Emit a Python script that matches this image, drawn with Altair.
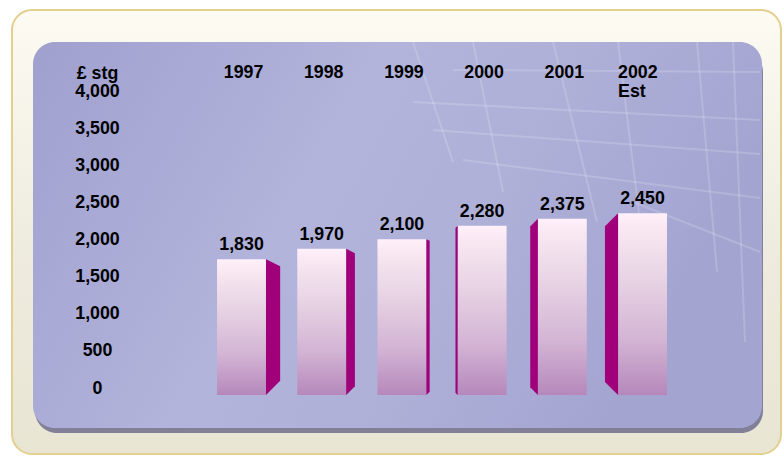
import altair as alt
import pandas as pd

# ---- data ----
years = ["1997", "1998", "1999", "2000", "2001", "2002"]
year_labels = ["1997", "1998", "1999", "2000", "2001", "2002\nEst"]
values = [1830, 1970, 2100, 2280, 2375, 2450]
y_ticks = [0, 500, 1000, 1500, 2000, 2500, 3000, 3500, 4000]
unit_label = "£ stg"

# ---- layout constants (styling) ----
W, H = 729, 386
PX_PER_SLOT = 80.2
PX_PER_UNIT = 0.0742
X_DOM = [-2.6, -2.6 + W / PX_PER_SLOT]
Y_DOM = [353 / PX_PER_UNIT - H / PX_PER_UNIT, 353 / PX_PER_UNIT]
HALF = 0.305
VP_SLOT = 2.6  # perspective centre
FONT = "Liberation Sans"
FS = 17.8

xs = alt.Scale(domain=X_DOM, nice=False, zero=False)
ys = alt.Scale(domain=Y_DOM, nice=False, zero=False)

y_axis = alt.Axis(
    values=y_ticks, orient="left", offset=-64, domain=False, ticks=False,
    tickSize=0, grid=False, labelPadding=0, labelAlign="center",
    labelBaseline="alphabetic", labelOffset=-2, labelFont=FONT,
    labelFontSize=FS, labelFontWeight="bold", labelColor="#000000",
    format=",.0f", title=unit_label, titleAngle=0, titleX=0, titleY=36,
    titleAlign="center", titleBaseline="alphabetic", titleFont=FONT,
    titleFontSize=FS, titleFontWeight="bold", titleColor="#000000",
    zindex=2,
)

bars = pd.DataFrame({
    "year": years,
    "label": year_labels,
    "slot": list(range(len(years))),
    "value": values,
})
bars["x0"] = bars["slot"] - HALF
bars["x1"] = bars["slot"] + HALF

# side faces (perspective)
rows = []
for i, (yr, v) in enumerate(zip(years, values)):
    d = (VP_SLOT - i) * PX_PER_SLOT * 0.068  # px, sign: + right face, - left face
    w = abs(d)
    if d >= 0:
        edge = i + HALF
        outer = edge + w / PX_PER_SLOT
        drop = 0.5 * w
    else:
        edge = i - HALF
        outer = edge - w / PX_PER_SLOT
        drop = 1.0 * w
    rows.append({"year": yr, "sx": edge, "top": v, "bot": 0})
    rows.append({"year": yr, "sx": outer, "top": v - drop / PX_PER_UNIT,
                 "bot": w / PX_PER_UNIT})
sides = pd.DataFrame(rows)

one = pd.DataFrame({"k": [0]})

# ---- decorations ----
frame = alt.Chart(one).mark_rect(
    cornerRadius=20,
    stroke="#e3cf8e",
    strokeWidth=2,
    color=alt.Gradient(
        gradient="linear", x1=0, y1=0, x2=0, y2=1,
        stops=[alt.GradientStop(color="#fdfbf2", offset=0),
               alt.GradientStop(color="#efece0", offset=0.5),
               alt.GradientStop(color="#e9e5d3", offset=1)],
    ),
).encode(x=alt.value(-21), x2=alt.value(W + 19), y=alt.value(-32), y2=alt.value(H + 26))

shadow = alt.Chart(one).mark_rect(
    cornerRadius=22, color="#6f6d8c", opacity=0.85
).encode(x=alt.value(2), x2=alt.value(W + 1), y=alt.value(8), y2=alt.value(H + 5))

panel = alt.Chart(one).mark_rect(
    cornerRadius=22,
    color=alt.Gradient(
        gradient="linear", x1=0, y1=0, x2=1, y2=0.3,
        stops=[alt.GradientStop(color="#a0a0cf", offset=0),
               alt.GradientStop(color="#b2b4db", offset=0.45),
               alt.GradientStop(color="#aeb0d8", offset=0.7),
               alt.GradientStop(color="#a4a4d1", offset=1)],
    ),
).encode(x=alt.value(0), x2=alt.value(W), y=alt.value(0), y2=alt.value(H))

# faint background grid texture (decorative)
grid_lines = [
    (520, 0, 564, 180), (585, 0, 607, 180), (664, 0, 684, 230),
    (380, 0, 420, 120), (440, 0, 470, 150), (700, 0, 712, 300),
    (380, 60, 727, 78), (400, 88, 727, 112), (420, 28, 727, 30),
    (430, 118, 727, 156), (600, 160, 727, 210),
]
texture = [
    alt.Chart(one).mark_rule(color="#ffffff", opacity=0.17, strokeWidth=2).encode(
        x=alt.value(a), y=alt.value(b), x2=alt.value(c), y2=alt.value(d)
    )
    for (a, b, c, d) in grid_lines
]

# ---- bars ----
base = alt.Chart(bars)

front = base.mark_rect(
    color=alt.Gradient(
        gradient="linear", x1=0, y1=0, x2=0, y2=1,
        stops=[alt.GradientStop(color="#fff0fa", offset=0),
               alt.GradientStop(color="#f8e6f1", offset=0.1),
               alt.GradientStop(color="#e8d4e4", offset=0.35),
               alt.GradientStop(color="#d3b4d4", offset=0.7),
               alt.GradientStop(color="#b588bb", offset=1)],
    )
).encode(
    x=alt.X("x0:Q", scale=xs, axis=None),
    x2="x1:Q",
    y=alt.Y("value:Q", scale=ys, axis=y_axis),
    y2=alt.datum(0),
)

side = alt.Chart(sides).mark_area(color="#a1007b", interpolate="linear").encode(
    x=alt.X("sx:Q", scale=xs, axis=None),
    y=alt.Y("top:Q", scale=ys, axis=y_axis),
    y2="bot:Q",
    detail="year:N",
)

vals = base.mark_text(
    font=FONT, fontSize=FS, fontWeight="bold", color="#000000",
    baseline="alphabetic", dy=-9,
).encode(
    x=alt.X("slot:Q", scale=xs, axis=None),
    y=alt.Y("value:Q", scale=ys, axis=y_axis),
    text=alt.Text("value:Q", format=",.0f"),
)

yr_main = alt.Chart(bars[bars["slot"] < 5]).mark_text(
    font=FONT, fontSize=FS, fontWeight="bold", color="#000000",
    baseline="alphabetic", dx=2,
).encode(
    x=alt.X("slot:Q", scale=xs, axis=None),
    y=alt.value(36),
    text="label:N",
)

yr_last = alt.Chart(bars[bars["slot"] == 5]).mark_text(
    font=FONT, fontSize=FS, fontWeight="bold", color="#000000",
    baseline="alphabetic", align="left", lineBreak="\n", lineHeight=19,
).encode(
    x=alt.X("x0:Q", scale=xs, axis=None),
    y=alt.value(36),
    text="label:N",
)

chart = alt.layer(frame, shadow, panel, *texture, front, side, vals, yr_main, yr_last).properties(
    width=W, height=H,
    padding={"left": 33, "top": 42, "right": 784 - 33 - W, "bottom": 463 - 42 - H},
    autosize=alt.AutoSizeParams(type="none"),
    background="#ffffff",
).configure_view(stroke=None)

chart.save("out.html", embed_options={"renderer": "svg", "actions": False})
